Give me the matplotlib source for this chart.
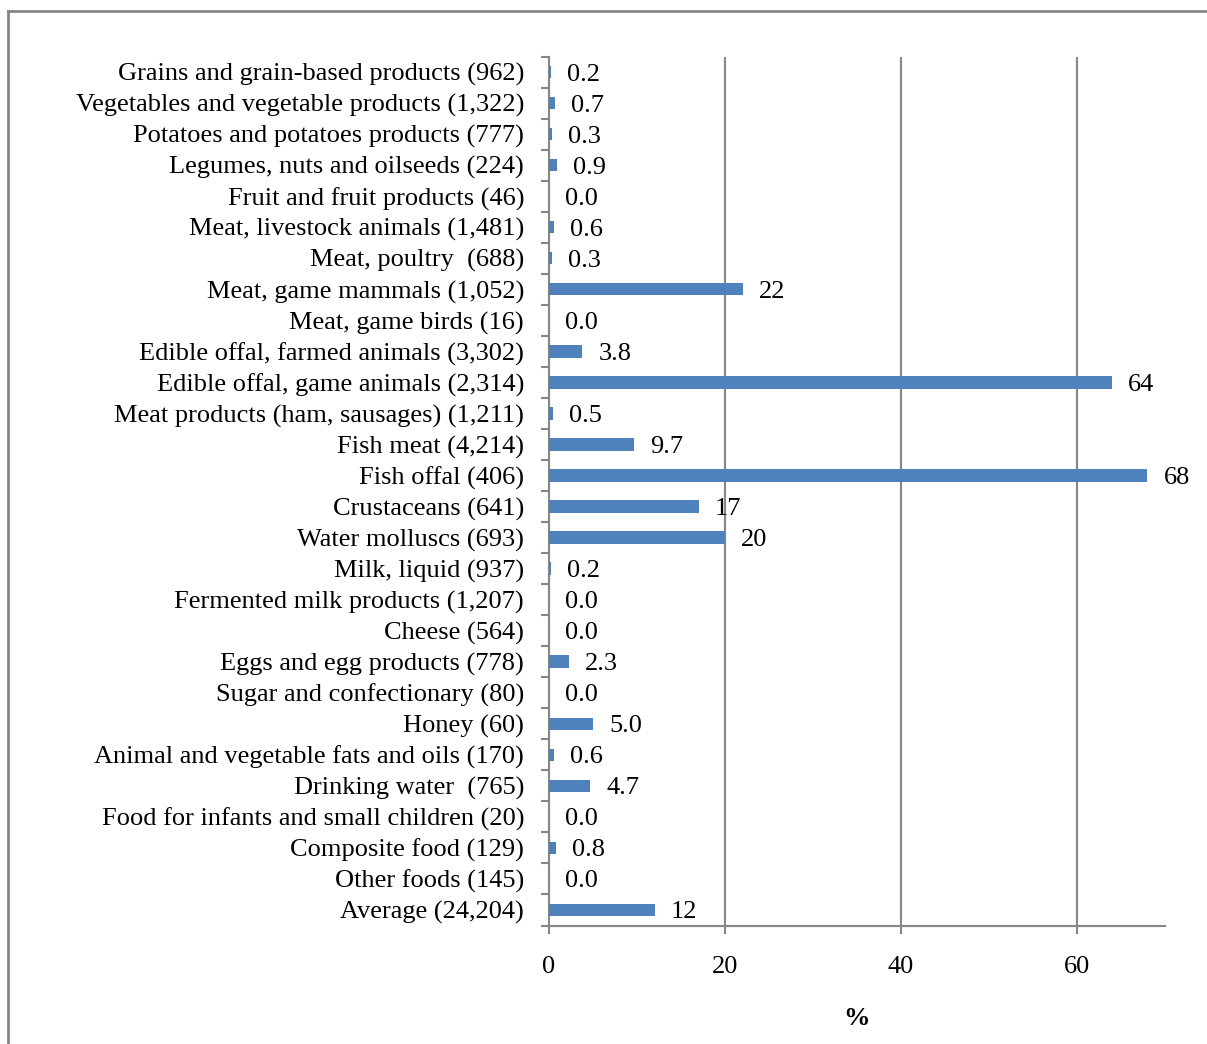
import matplotlib
matplotlib.use("Agg")
import matplotlib.pyplot as plt
import numpy as np
from matplotlib.lines import Line2D

categories = [
    "Grains and grain-based products (962)",
    "Vegetables and vegetable products (1,322)",
    "Potatoes and potatoes products (777)",
    "Legumes, nuts and oilseeds (224)",
    "Fruit and fruit products (46)",
    "Meat, livestock animals (1,481)",
    "Meat, poultry  (688)",
    "Meat, game mammals (1,052)",
    "Meat, game birds (16)",
    "Edible offal, farmed animals (3,302)",
    "Edible offal, game animals (2,314)",
    "Meat products (ham, sausages) (1,211)",
    "Fish meat (4,214)",
    "Fish offal (406)",
    "Crustaceans (641)",
    "Water molluscs (693)",
    "Milk, liquid (937)",
    "Fermented milk products (1,207)",
    "Cheese (564)",
    "Eggs and egg products (778)",
    "Sugar and confectionary (80)",
    "Honey (60)",
    "Animal and vegetable fats and oils (170)",
    "Drinking water  (765)",
    "Food for infants and small children (20)",
    "Composite food (129)",
    "Other foods (145)",
    "Average (24,204)",
]
values = [0.2, 0.7, 0.3, 0.9, 0.0, 0.6, 0.3, 22, 0.0, 3.8, 64, 0.5, 9.7, 68,
          17, 20, 0.2, 0.0, 0.0, 2.3, 0.0, 5.0, 0.6, 4.7, 0.0, 0.8, 0.0, 12]
xticks = [0, 20, 40, 60]

plt.rcParams["font.family"] = ["Liberation Serif", "DejaVu Serif"]
fs = 19
grey = "#868686"

fig = plt.figure(figsize=(12.07, 10.44), dpi=100)
ax = fig.add_axes([549 / 1207, 1 - 925.5 / 1044, 616 / 1207, 869 / 1044])

y = np.arange(len(categories))
ax.barh(y, values, height=0.4, color="#4F81BD", zorder=3)
for yi, v in zip(y, values):
    txt = f"{v:.1f}" if v < 10 else f"{v:.0f}"
    ax.annotate(txt, (v, yi), xytext=(16, 0), textcoords="offset pixels",
                ha="left", va="center_baseline", fontsize=fs, zorder=4)

ax.set_xlim(0, 70)
ax.set_ylim(len(categories) - 0.5, -0.5)
ax.set_xticks(xticks)
ax.set_xticklabels([str(t) for t in xticks], fontsize=fs)
ax.set_yticks(y)
ax.set_yticklabels(categories, fontsize=fs)
ax.set_yticks(np.arange(len(categories) + 1) - 0.5, minor=True)
ax.tick_params(axis="y", which="major", length=0, pad=18)
ax.tick_params(axis="y", which="minor", length=6, color=grey, width=1.5)
ax.tick_params(axis="x", length=6, color=grey, width=1.5, pad=16)
ax.xaxis.grid(True, color=grey, linewidth=1.5, zorder=0)
ax.set_axisbelow(True)
for s in ["top", "right"]:
    ax.spines[s].set_visible(False)
for s in ["left", "bottom"]:
    ax.spines[s].set_color(grey)
    ax.spines[s].set_linewidth(1.5)
ax.set_xlabel("%", fontsize=fs, fontweight="bold", labelpad=21)

# chart border
fig.add_artist(Line2D([8 / 1207, 1], [1 - 11 / 1044, 1 - 11 / 1044],
                      transform=fig.transFigure, color=grey, linewidth=2))
fig.add_artist(Line2D([8 / 1207, 8 / 1207], [0, 1 - 11 / 1044],
                      transform=fig.transFigure, color=grey, linewidth=2))

fig.savefig("out.png", dpi=100)
